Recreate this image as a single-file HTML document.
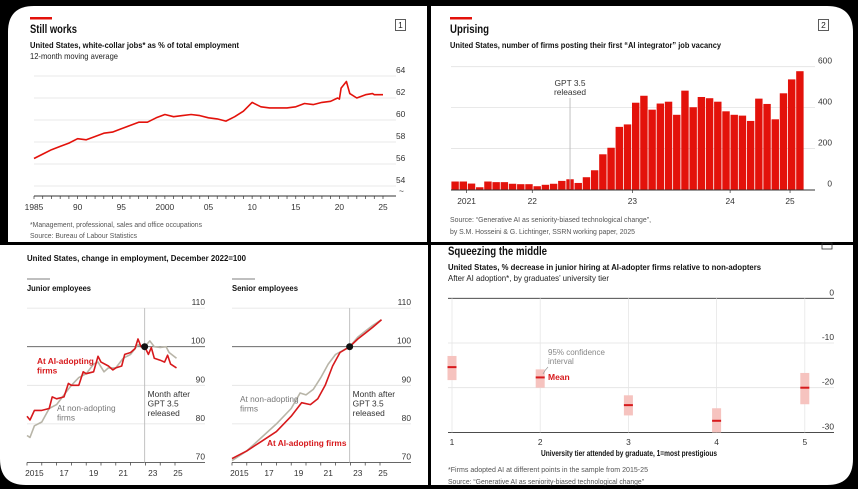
<!DOCTYPE html>
<html><head><meta charset="utf-8"><style>
html,body{margin:0;padding:0;background:#000;}
svg{display:block;font-family:"Liberation Sans Narrow","Liberation Sans",sans-serif;}
.t{font-weight:bold;font-size:11.5px;fill:#111;}
.s{font-weight:bold;font-size:8.6px;fill:#111;}
.n{font-size:8.4px;fill:#222;}
.k{font-size:8.4px;fill:#333;}
.f{font-size:7.6px;fill:#555;}
.g{stroke:#e2e2e2;stroke-width:0.8;}
</style></head><body>
<svg id="c" width="858" height="489" viewBox="0 0 858 489" xmlns="http://www.w3.org/2000/svg">
<rect width="858" height="489" fill="#000"/>
<path d="M8,32 Q8,6 34,6 L427,6 L427,242 L8,242 Z" fill="#fff"/>
<path d="M431,6 L827,6 Q853,6 853,32 L853,242 L431,242 Z" fill="#fff"/>
<path d="M0,245 L428,245 L428,485 L26,485 Q0,485 0,459 Z" fill="#fff"/>
<path d="M431,245 L853,245 L853,459 Q853,485 827,485 L431,485 Z" fill="#fff"/>

<!-- Panel 1 -->
<rect x="30" y="17" width="22" height="2.5" fill="#e3120b"/>
<text x="30" y="33" class="t" textLength="47" lengthAdjust="spacingAndGlyphs">Still works</text>
<text x="30" y="48" class="s" textLength="209" lengthAdjust="spacingAndGlyphs">United States, white-collar jobs* as % of total employment</text>
<text x="30" y="59" class="n" textLength="88" lengthAdjust="spacingAndGlyphs">12-month moving average</text>
<rect x="395.5" y="19.5" width="10" height="11" fill="none" stroke="#333" stroke-width="0.8"/>
<text x="400.5" y="28" class="n" text-anchor="middle" font-size="7.5">1</text>
<g id="g1"></g>
<text x="30" y="227" class="f" textLength="172" lengthAdjust="spacingAndGlyphs">*Management, professional, sales and office occupations</text>
<text x="30" y="238" class="f" textLength="107" lengthAdjust="spacingAndGlyphs">Source: Bureau of Labour Statistics</text>

<!-- Panel 2 -->
<rect x="450" y="17" width="22" height="2.5" fill="#e3120b"/>
<text x="450" y="33" class="t" textLength="39" lengthAdjust="spacingAndGlyphs">Uprising</text>
<text x="450" y="48" class="s" textLength="271" lengthAdjust="spacingAndGlyphs">United States, number of firms posting their first “AI integrator” job vacancy</text>
<rect x="818.5" y="19.5" width="10" height="11" fill="none" stroke="#333" stroke-width="0.8"/>
<text x="823.5" y="28" class="n" text-anchor="middle" font-size="7.5">2</text>
<g id="g2"></g>
<text x="450" y="222" class="f" textLength="201" lengthAdjust="spacingAndGlyphs">Source: “Generative AI as seniority-biased technological change”,</text>
<text x="450" y="234" class="f" textLength="185" lengthAdjust="spacingAndGlyphs">by S.M. Hosseini &amp; G. Lichtinger, SSRN working paper, 2025</text>

<!-- Panel 3 -->
<text x="27" y="261" class="s" textLength="219" lengthAdjust="spacingAndGlyphs">United States, change in employment, December 2022=100</text>
<line x1="27" y1="279" x2="50" y2="279" stroke="#555" stroke-width="0.8"/>
<line x1="232" y1="279" x2="255" y2="279" stroke="#555" stroke-width="0.8"/>
<text x="27" y="291" class="s" textLength="64" lengthAdjust="spacingAndGlyphs">Junior employees</text>
<text x="232" y="291" class="s" textLength="66" lengthAdjust="spacingAndGlyphs">Senior employees</text>
<g id="g3"></g>

<!-- Panel 4 -->
<rect x="822" y="243" width="10" height="6" fill="none" stroke="#333" stroke-width="0.8"/>
<text x="448" y="255" class="t" textLength="99" lengthAdjust="spacingAndGlyphs">Squeezing the middle</text>
<text x="448" y="270" class="s" textLength="313" lengthAdjust="spacingAndGlyphs">United States, % decrease in junior hiring at AI-adopter firms relative to non-adopters</text>
<text x="448" y="281" class="n" textLength="161" lengthAdjust="spacingAndGlyphs">After AI adoption*, by graduates’ university tier</text>
<g id="g4"></g>
<text x="541" y="456" class="s" textLength="176" lengthAdjust="spacingAndGlyphs">University tier attended by graduate, 1=most prestigious</text>
<text x="448" y="472" class="f" textLength="200" lengthAdjust="spacingAndGlyphs">*Firms adopted AI at different points in the sample from 2015-25</text>
<text x="448" y="484" class="f" textLength="196" lengthAdjust="spacingAndGlyphs">Source: “Generative AI as seniority-biased technological change”</text>
</svg>
<script>
// Chart 1 data
const c1Years=[1985,1986,1987,1988,1989,1990,1991,1992,1993,1994,1995,1996,1997,1998,1999,2000,2001,2002,2003,2004,2005,2006,2007,2008,2009,2010,2011,2012,2013,2014,2015,2016,2017,2018,2019,2019.8,2020.0,2020.2,2020.8,2021.2,2022,2023,2023.8,2024,2025];
const c1Values=[56.5,56.9,57.3,57.6,57.9,58.3,58.2,58.5,58.8,58.9,59.2,59.5,59.8,59.8,60.2,60.5,60.3,60.4,60.5,60.4,60.2,60.1,59.9,60.3,60.8,61.6,61.2,61.1,61.1,61.1,61.2,61.5,61.4,61.6,61.7,62.0,61.9,62.9,63.5,62.4,62.0,62.3,62.4,62.3,62.3];
const c1YTicks=[64,62,60,58,56,54];
const c1XTicks=[1985,1990,1995,2000,2005,2010,2015,2020,2025];
const c1XLabels=["1985","90","95","2000","05","10","15","20","25"];
// Chart 2 data
const c2Values=[39,39,29,11,39,36,36,28,26,26,16,23,28,42,50,32,60,94,172,204,306,318,424,458,390,420,429,365,483,402,452,446,429,382,365,361,335,444,418,343,470,538,578];
const c2YTicks=[0,200,400,600];
const c2XLabelPos=[1.9,9.9,22.1,34,41.3];
const c2XLabels=["2021","22","23","24","25"];
const c2GptIndex=14.5;
// Chart 3 data
const c3JuniorAIx=[2015,2015.2,2015.5,2016,2016.5,2016.7,2017,2017.5,2017.8,2018,2018.5,2018.8,2019,2019.5,2019.8,2020,2020.5,2020.8,2021,2021.4,2021.6,2022,2022.3,2022.5,2022.7,2022.95,2023.2,2023.4,2023.6,2024,2024.3,2024.5,2024.7,2025.1];
const c3JuniorAIy=[82,81,83.5,83.5,84,87,86.5,87,90.5,90,90,93.5,93,93.5,97.5,96,95,94,94.5,95,98,98.5,99.5,102,100,100,98,99.8,97,96.5,96,97.8,95.5,94.5];
const c3JuniorNonx=[2015,2015.2,2015.5,2016,2016.5,2017,2017.5,2018,2018.5,2019,2019.5,2019.8,2020.2,2020.5,2021,2021.5,2022,2022.5,2022.95,2023.3,2023.6,2024,2024.4,2024.6,2025.1];
const c3JuniorNony=[77,76.5,79.5,80.5,84,85,87.5,90,92,93,95.5,96,93.5,94.5,94.5,97,98,100.5,100,101.5,100,99.8,100,98.5,97];
const c3SeniorAIx=[2015,2016,2017,2018,2019,2019.7,2020.3,2020.8,2021.3,2021.8,2022.3,2022.95,2023.5,2024,2024.5,2025.1];
const c3SeniorAIy=[71,73,75.5,78,82,85.5,85,86.5,90,95,98.5,100,102,103.5,105,107];
const c3SeniorNonx=[2015,2016,2017,2018,2019,2019.6,2020,2020.5,2021,2021.5,2022,2022.95,2023.5,2024,2024.5,2025.1];
const c3SeniorNony=[70.5,73,76.5,80,84,88,87.5,89,92,95.5,98,100,102.5,104,105.5,107];
const c3YTicks=[110,100,90,80,70];
const c3XLabelYears=[2015.5,2017.5,2019.5,2021.5,2023.5,2025.2];
const c3XLabels=["2015","17","19","21","23","25"];
// Chart 4 data
const c4Tiers=[1,2,3,4,5];
const c4Mean=[-15.4,-17.7,-23.9,-27.4,-20];
const c4Low=[-18.3,-20,-26.2,-30,-23.7];
const c4High=[-12.9,-15.9,-21.7,-24.6,-16.7];
const c4YTicks=[0,-10,-20,-30];

const NS="http://www.w3.org/2000/svg";
function mk(parent,tag,attrs,text){const e=document.createElementNS(NS,tag);for(const k in attrs)e.setAttribute(k,attrs[k]);if(text!==undefined)e.textContent=text;parent.appendChild(e);return e;}
function pathD(xs,ys,fx,fy){return xs.map((v,i)=>(i?'L':'M')+fx(v).toFixed(1)+','+fy(ys[i]).toFixed(1)).join('');}

// ---- Chart 1
(function(){
 const g=document.getElementById('g1');
 const x=v=>34+(v-1985)*(383-34)/40, y=v=>76+(64-v)*11;
 c1YTicks.forEach(t=>{
  const l=mk(g,'line',{x1:34,x2:396,y1:y(t),y2:y(t),class:'g'});
  
  
  const tx=mk(g,'text',{x:396,y:y(t)-3,class:'k','text-anchor':'start'},String(t));
  
  
 });
 mk(g,'text',{x:399,y:194,class:'k','font-size':'7'},'~');
 mk(g,'line',{x1:34,x2:396,y1:196,y2:196,stroke:'#333','stroke-width':0.9});
 for(let yr=1985;yr<=2025;yr++){mk(g,'line',{x1:x(yr),x2:x(yr),y1:196,y2:199,stroke:'#333','stroke-width':0.7});}
 c1XTicks.forEach((t,i)=>{
  const tx=mk(g,'text',{x:x(t),y:210,class:'k','text-anchor':'middle'},c1XLabels[i]);
  
  
 });
 const p=mk(g,'path',{d:pathD(c1Years,c1Values,x,y),fill:'none',stroke:'#e3120b','stroke-width':1.6,'stroke-linejoin':'round'});
 
 
})();

// ---- Chart 2
(function(){
 const g=document.getElementById('g2');
 const bw=(804-451)/c2Values.length;
 const x=i=>451+i*bw, y=v=>189.5-v*(189.5-66.7)/600;
 c2YTicks.forEach(t=>{
  if(t>0){const l=mk(g,'line',{x1:451,x2:815,y1:y(t),y2:y(t),class:'g'});
  
  }
  const tx=mk(g,'text',{x:832,y:y(t)-3,class:'k','text-anchor':'end'},String(t));
  
  
 });
 c2Values.forEach((v,i)=>{
  const r=mk(g,'rect',{x:x(i)+0.4,y:y(v),width:bw-0.8,height:189.5-y(v),fill:'#e3120b'});
  
  
 });
 mk(g,'line',{x1:451,x2:815,y1:190,y2:190,stroke:'#333','stroke-width':0.9});
 c2XLabelPos.forEach((p,i)=>{
  mk(g,'line',{x1:x(p),x2:x(p),y1:190,y2:193,stroke:'#333','stroke-width':0.7});
  const tx=mk(g,'text',{x:x(p),y:204,class:'k','text-anchor':'middle'},c2XLabels[i]);
  
  
 });
 const gx=x(c2GptIndex);
 mk(g,'line',{x1:gx,x2:gx,y1:98,y2:189,stroke:'#bbb','stroke-width':0.9});
 const a=mk(g,'text',{x:gx,y:86,class:'k','text-anchor':'middle'},'GPT 3.5');
 
 
 mk(g,'text',{x:gx,y:95,class:'k','text-anchor':'middle'},'released');
})();

// ---- Chart 3
function emp(g,x0,gridEnd,labelX,aiX,aiY,nonX,nonY,suffix){
 const x=v=>x0+(v-2015)*14.8, y=v=>346.7+(100-v)*3.86;
 c3YTicks.forEach(t=>{
  const l=mk(g,'line',{x1:x0,x2:gridEnd,y1:y(t),y2:y(t),stroke:t===100?'#555':(t===70?'#333':'#e2e2e2'),'stroke-width':t===100?0.9:0.8});
  
  
  const tx=mk(g,'text',{x:labelX,y:y(t)-3,class:'k','text-anchor':'end'},String(t));
  
  
 });
 for(let yr=2015;yr<=2025;yr++){mk(g,'line',{x1:x(yr),x2:x(yr),y1:y(70),y2:y(70)+3,stroke:'#333','stroke-width':0.7});}
 c3XLabelYears.forEach((p,i)=>{
  const tx=mk(g,'text',{x:x(p),y:476,class:'k','text-anchor':'middle'},c3XLabels[i]);
  
  
 });
 const vx=x(2022.95);
 mk(g,'line',{x1:vx,x2:vx,y1:y(110),y2:y(70),stroke:'#bbb','stroke-width':0.9});
 const pn=mk(g,'path',{d:pathD(nonX,nonY,x,y),fill:'none',stroke:'#b8b5a8','stroke-width':1.6,'stroke-linejoin':'round'});
 
 
 const pa=mk(g,'path',{d:pathD(aiX,aiY,x,y),fill:'none',stroke:'#d7191c','stroke-width':1.6,'stroke-linejoin':'round'});
 
 
 mk(g,'circle',{cx:vx,cy:y(100),r:3.5,fill:'#111'});
 const t1=mk(g,'text',{x:vx+3,y:397,class:'k','font-size':'8'},'Month after');
 
 
 mk(g,'text',{x:vx+3,y:406.5,class:'k','font-size':'8'},'GPT 3.5');
 mk(g,'text',{x:vx+3,y:416,class:'k','font-size':'8'},'released');
}
(function(){
 const g=document.getElementById('g3');
 emp(g,27,205,205,c3JuniorAIx,c3JuniorAIy,c3JuniorNonx,c3JuniorNony,'junior');
 emp(g,232,411,411,c3SeniorAIx,c3SeniorAIy,c3SeniorNonx,c3SeniorNony,'senior');
 const L=(x,y,c,s,w)=>mk(g,'text',{x:x,y:y,fill:c,'font-size':'8.3','font-weight':w||'normal'},s);
 L(37,364,'#d7191c','At AI-adopting','bold');L(37,373.5,'#d7191c','firms','bold');
 L(57,411,'#777','At non-adopting');L(57,420.5,'#777','firms');
 L(240,402,'#777','At non-adopting');L(240,411.5,'#777','firms');
 L(267,446,'#d7191c','At AI-adopting firms','bold');
})();

// ---- Chart 4
(function(){
 const g=document.getElementById('g4');
 const x=t=>452+(t-1)*88.2, y=v=>298.3-v*4.47;
 c4YTicks.forEach(t=>{
  const l=mk(g,'line',{x1:448,x2:834,y1:y(t),y2:y(t),stroke:(t===0||t===-30)?'#333':'#e2e2e2','stroke-width':(t===0||t===-30)?0.9:0.8});
  
  
  const tx=mk(g,'text',{x:834,y:y(t)-3,class:'k','text-anchor':'end'},String(t));
  
  
 });
 c4Tiers.forEach((t,i)=>{
  mk(g,'line',{x1:x(t),x2:x(t),y1:y(0),y2:y(-30),stroke:'#e6e6e6','stroke-width':0.8});
  const r=mk(g,'rect',{x:x(t)-4.5,y:y(c4High[i]),width:9,height:y(c4Low[i])-y(c4High[i]),fill:'#f6c3bf'});
  
  
  const m=mk(g,'rect',{x:x(t)-4.5,y:y(c4Mean[i])-1,width:9,height:2,fill:'#d7191c'});
  
  
  const tx=mk(g,'text',{x:x(t),y:445,class:'k','text-anchor':'middle'},String(t));
  
  
 });
 mk(g,'text',{x:548,y:355,fill:'#888','font-size':'8'},'95% confidence');
 mk(g,'text',{x:548,y:364,fill:'#888','font-size':'8'},'interval');
 mk(g,'path',{d:'M548,367 Q545,370 543,374',fill:'none',stroke:'#999','stroke-width':0.7});
 const mn=mk(g,'text',{x:548,y:380,fill:'#d7191c','font-size':'8.5','font-weight':'bold'},'Mean');
 
 
})();
</script>
</body></html>
